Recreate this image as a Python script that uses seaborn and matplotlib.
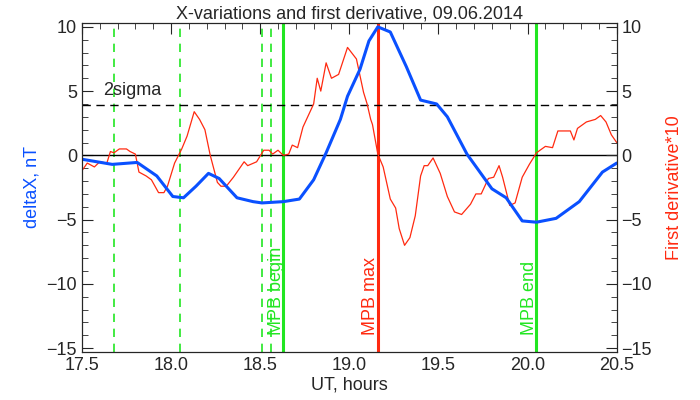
import numpy as np
import matplotlib
matplotlib.use("Agg")
import matplotlib.pyplot as plt
import seaborn as sns
from matplotlib.ticker import MultipleLocator

# deltaX (blue), nT
t_dx = [17.5, 17.67, 17.81, 17.92, 18.01, 18.07, 18.14, 18.21, 18.27, 18.37, 18.46, 18.51, 18.63, 18.72,
        18.80, 18.87, 18.95, 18.99, 19.06, 19.11, 19.16, 19.23, 19.32, 19.40, 19.49, 19.55, 19.66, 19.80,
        19.88, 19.97, 20.05, 20.16, 20.29, 20.42, 20.5]
dx = [-0.3, -0.7, -0.55, -1.6, -3.2, -3.3, -2.4, -1.4, -1.8, -3.3, -3.6, -3.7, -3.6, -3.4,
      -1.9, 0.2, 2.8, 4.6, 6.7, 8.9, 10.0, 9.6, 6.9, 4.3, 4.0, 3.0, 0.1, -2.6,
      -3.3, -5.1, -5.2, -4.9, -3.6, -1.3, -0.6]

# first derivative * 10 (red)
t_dv = [17.5, 17.53, 17.57, 17.60, 17.64, 17.66, 17.68, 17.71, 17.75, 17.77, 17.80, 17.82, 17.86,
        17.89, 17.93, 17.96, 17.98, 18.02, 18.06, 18.09, 18.13, 18.16, 18.19, 18.22, 18.26, 18.28,
        18.31, 18.35, 18.41, 18.43, 18.48, 18.52, 18.55, 18.57, 18.60, 18.63, 18.66, 18.68, 18.71,
        18.74, 18.77, 18.80, 18.82, 18.84, 18.87, 18.90, 18.94, 18.99, 19.04, 19.08, 19.10, 19.12,
        19.13, 19.16, 19.19, 19.23, 19.26, 19.28, 19.31, 19.34, 19.37, 19.40, 19.42, 19.44, 19.47,
        19.51, 19.55, 19.59, 19.63, 19.68, 19.71, 19.74, 19.78, 19.81, 19.84, 19.86, 19.90, 19.93,
        19.97, 20.01, 20.05, 20.10, 20.14, 20.17, 20.24, 20.26, 20.28, 20.33, 20.38, 20.41, 20.44,
        20.47, 20.5]
dv = [-1.2, -0.6, -0.9, -0.5, -0.6, 0.3, 0.2, 0.5, 0.5, 0.3, 0.1, -1.3, -1.6,
      -1.9, -2.9, -2.9, -2.4, -0.6, 0.5, 1.5, 3.4, 2.8, 2.0, 0.0, -2.1, -2.4,
      -2.4, -1.7, -0.5, -0.8, -0.5, 0.4, 0.4, 0.1, 0.4, 0.0, 0.1, 0.8, 0.6,
      2.2, 3.1, 4.0, 6.0, 5.0, 7.2, 6.0, 6.3, 8.4, 7.5, 4.9, 4.0, 2.8,
      2.4, 0.1, -0.9, -3.4, -4.1, -5.7, -7.0, -6.4, -4.7, -1.6, -0.8, -0.8, -0.2,
      -1.4, -3.2, -4.4, -4.6, -3.8, -3.0, -3.0, -1.8, -1.7, -0.8, -1.7, -3.9, -3.7,
      -1.7, -0.7, 0.2, 0.7, 0.6, 1.9, 1.9, 1.2, 2.1, 2.6, 2.8, 3.1, 2.6,
      1.6, 1.0]

two_sigma = 3.9
dashed_green = [17.68, 18.05, 18.51, 18.56]
mpb_begin, mpb_max, mpb_end = 18.63, 19.16, 20.05

sns.set_style("white")
plt.rcParams['font.family'] = ['Liberation Sans', 'DejaVu Sans']
fig = plt.figure(figsize=(7, 4), dpi=100)
ax = fig.add_axes([0.117, 0.12, 0.764, 0.8225])

GREEN = "#22e622"
RED = "#ff2a10"
BLUE = "#0a50ff"
for x in dashed_green:
    ax.axvline(x, color=GREEN, lw=1.2, ls=(0, (5, 4)))
ax.axvline(mpb_begin, color=GREEN, lw=2.2)
ax.axvline(mpb_end, color=GREEN, lw=2.2)
ax.axvline(mpb_max, color=RED, lw=2.2)
ax.axhline(0, color="black", lw=1)
ax.axhline(two_sigma, color="black", lw=1, ls=(0, (6, 4)))

sns.lineplot(x=t_dv, y=dv, ax=ax, color=RED, lw=0.9, estimator=None, sort=False)
sns.lineplot(x=t_dx, y=dx, ax=ax, color=BLUE, lw=2.2, estimator=None, sort=False)

ax.text(17.62, two_sigma + 0.5, "2sigma", fontsize=13, va="bottom")
ax.text(mpb_begin - 0.04, -14.0, "MPB begin", rotation=90, color=GREEN, fontsize=13, ha="center", va="bottom")
ax.text(mpb_max - 0.04, -14.0, "MPB max", rotation=90, color=RED, fontsize=13, ha="center", va="bottom")
ax.text(mpb_end - 0.04, -14.0, "MPB end", rotation=90, color=GREEN, fontsize=13, ha="center", va="bottom")

ax.set_xlim(17.5, 20.5)
ax.set_ylim(-15.3, 10.3)
ax.xaxis.set_major_locator(MultipleLocator(0.5))
ax.xaxis.set_minor_locator(MultipleLocator(0.1))
ax.yaxis.set_major_locator(MultipleLocator(5))
ax.yaxis.set_minor_locator(MultipleLocator(1))
ax.tick_params(which="both", direction="in", top=True, right=False, labelsize=13)
ax.tick_params(which="major", length=8)
ax.tick_params(which="minor", length=4)
ax.set_xlabel("UT, hours", fontsize=13, labelpad=2)
ax.set_ylabel("deltaX, nT", fontsize=13, color=BLUE)
ax.set_title("X-variations and first derivative, 09.06.2014", fontsize=13, pad=3)
for s in ax.spines.values():
    s.set_color("black")

ax2 = ax.twinx()
ax2.set_ylim(-15.3, 10.3)
ax2.yaxis.set_major_locator(MultipleLocator(5))
ax2.yaxis.set_minor_locator(MultipleLocator(1))
ax2.tick_params(which="both", direction="in", labelsize=13)
ax2.tick_params(which="major", length=8)
ax2.tick_params(which="minor", length=4)
ax2.set_ylabel("First derivative*10", fontsize=13, color=RED, labelpad=10)

fig.savefig("out.png", dpi=100)
